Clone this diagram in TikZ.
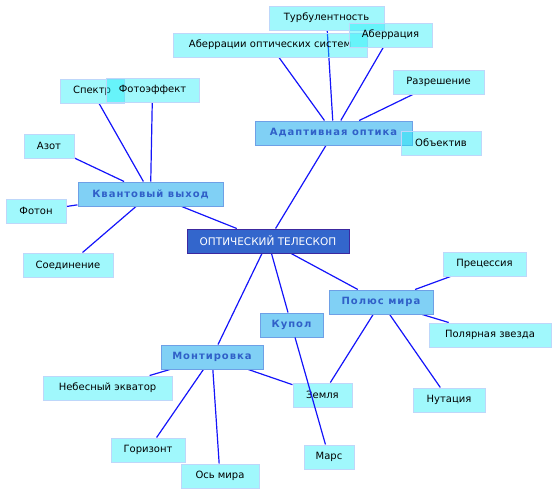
\documentclass[tikz,border=0pt]{standalone}
\usepackage{fontspec}
\setmainfont{DejaVu Sans}
\newfontfamily\hubfont[LetterSpace=10]{DejaVu Sans Bold}
\usetikzlibrary{backgrounds}
\definecolor{leaffill}{RGB}{17,238,247}
\definecolor{leafdraw}{RGB}{190,215,250}
\definecolor{hubfill}{RGB}{128,208,245}
\definecolor{hubdraw}{RGB}{110,160,230}
\definecolor{hubtext}{RGB}{48,96,200}
\definecolor{rootfill}{RGB}{51,102,204}
\definecolor{rootdraw}{RGB}{60,40,160}
\definecolor{edgecol}{RGB}{20,20,250}
\tikzset{
  leaf/.style={draw=leafdraw, line width=1pt, fill=leaffill, fill opacity=0.4, text opacity=1,
    minimum height=24pt, inner sep=0pt, font=\fontsize{10}{12}\selectfont, text=black},
  hub/.style={draw=hubdraw, line width=1pt, fill=hubfill, minimum height=24pt, inner sep=0pt,
    font=\hubfont\fontsize{10}{12}\selectfont, text=hubtext},
  root/.style={draw=rootdraw, line width=1pt, fill=rootfill, minimum height=24pt, inner sep=0pt,
    font=\fontsize{10.5}{12}\selectfont, text=white},
  link/.style={draw=edgecol, line width=1.2pt}
}
\begin{document}
\begin{tikzpicture}[x=1pt,y=-1pt]
\useasboundingbox (0,0) rectangle (559,496);
% hubs
\node[root, minimum width=162pt] (root) at (268,241) {ОПТИЧЕСКИЙ ТЕЛЕСКОП};
\node[hub, minimum width=157pt] (adapt) at (333.5,133) {Адаптивная оптика};
\node[hub, minimum width=145pt] (kvant) at (150.5,194) {Квантовый выход};
\node[hub, minimum width=104pt] (polus) at (381,302) {Полюс мира};
\node[hub, minimum width=63pt] (kupol) at (291.5,325) {Купол};
\node[hub, minimum width=102pt] (montir) at (212,357) {Монтировка};
% leaves
\node[leaf, minimum width=115pt] (turb) at (326.5,18) {Турбулентность};
\node[leaf, minimum width=194pt] (aberopt) at (270,45) {Аберрации оптических систем};
\node[leaf, minimum width=83pt] (aber) at (390.5,35) {Аберрация};
\node[leaf, minimum width=91pt] (razr) at (438.5,82) {Разрешение};
\node[leaf, minimum width=80pt] (obj) at (441,143) {Объектив};
\node[leaf, minimum width=64pt] (spektr) at (92,91) {Спектр};
\node[leaf, minimum width=93pt] (foto) at (152.5,90) {Фотоэффект};
\node[leaf, minimum width=50pt] (azot) at (49,146) {Азот};
\node[leaf, minimum width=60pt] (foton) at (36,211) {Фотон};
\node[leaf, minimum width=90pt] (soed) at (68,265) {Соединение};
\node[leaf, minimum width=83pt] (prec) at (484.5,264) {Прецессия};
\node[leaf, minimum width=122pt] (polyar) at (490,335) {Полярная звезда};
\node[leaf, minimum width=72pt] (nut) at (449,400) {Нутация};
\node[leaf, minimum width=59pt] (zemlya) at (322.5,395) {Земля};
\node[leaf, minimum width=50pt] (mars) at (329,457) {Марс};
\node[leaf, minimum width=129pt] (nebes) at (107.5,388) {Небесный экватор};
\node[leaf, minimum width=74pt] (gor) at (148,450) {Горизонт};
\node[leaf, minimum width=78pt] (os) at (220,476) {Ось мира};
\begin{pgfonlayer}{background}
\draw[link] (root) -- (adapt);
\draw[link] (root) -- (kvant);
\draw[link] (root) -- (polus);
\draw[link] (root) -- (kupol);
\draw[link] (root) -- (montir);
\draw[link] (adapt) -- (turb);
\draw[link] (adapt) -- (aberopt);
\draw[link] (adapt) -- (aber);
\draw[link] (adapt) -- (razr);
\draw[link] (adapt) -- (obj);
\draw[link] (kvant) -- (spektr);
\draw[link] (kvant) -- (foto);
\draw[link] (kvant) -- (azot);
\draw[link] (kvant) -- (foton);
\draw[link] (kvant) -- (soed);
\draw[link] (polus) -- (prec);
\draw[link] (polus) -- (polyar);
\draw[link] (polus) -- (nut);
\draw[link] (polus) -- (zemlya);
\draw[link] (montir) -- (nebes);
\draw[link] (montir) -- (gor);
\draw[link] (montir) -- (os);
\draw[link] (montir) -- (zemlya);
\end{pgfonlayer}
\draw[link] (kupol) -- (mars);
\end{tikzpicture}
\end{document}
